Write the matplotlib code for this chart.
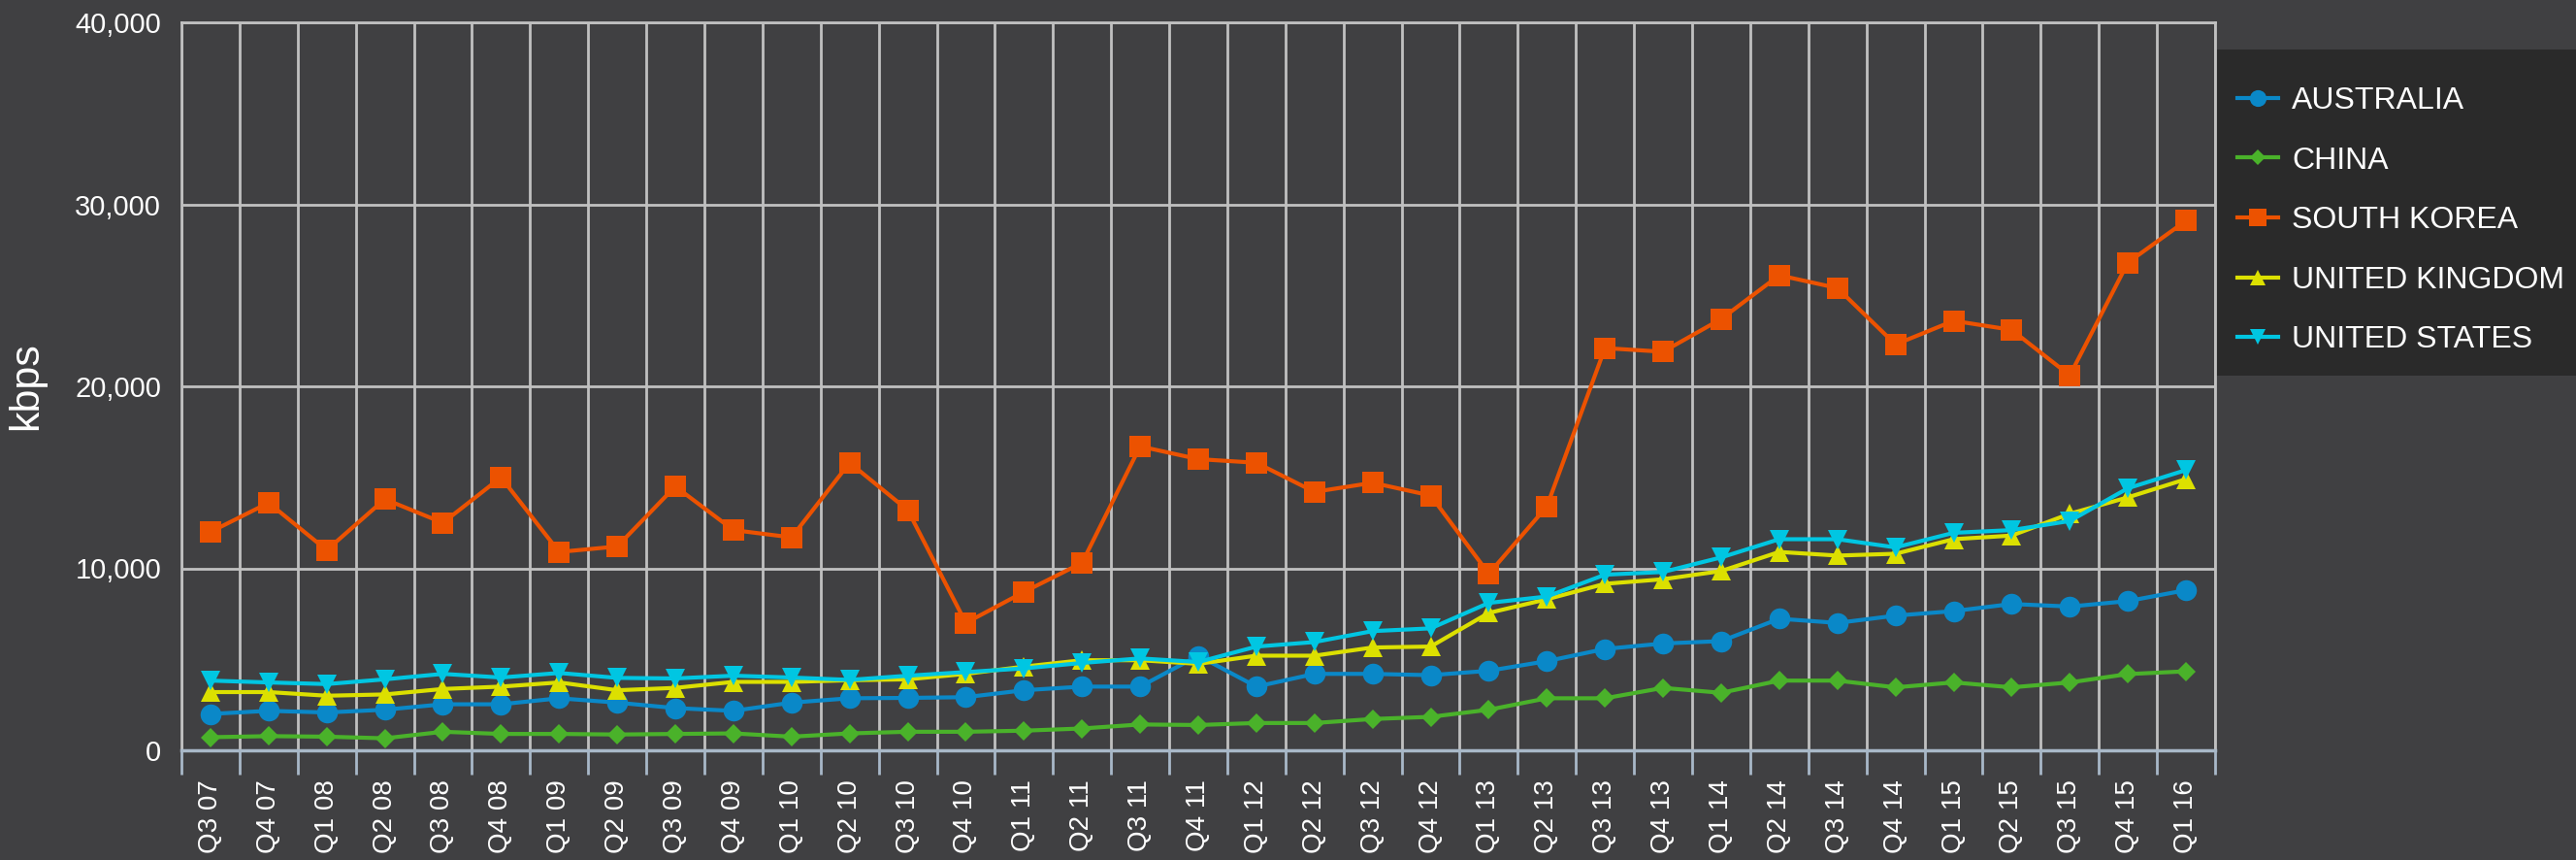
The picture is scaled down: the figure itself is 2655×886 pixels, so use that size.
import matplotlib
matplotlib.use("Agg")
import matplotlib.pyplot as plt
from matplotlib.patches import Rectangle
import numpy as np

plt.rcParams['font.family'] = ['Liberation Sans', 'DejaVu Sans']

quarters = ["Q3 07", "Q4 07",
            "Q1 08", "Q2 08", "Q3 08", "Q4 08",
            "Q1 09", "Q2 09", "Q3 09", "Q4 09",
            "Q1 10", "Q2 10", "Q3 10", "Q4 10",
            "Q1 11", "Q2 11", "Q3 11", "Q4 11",
            "Q1 12", "Q2 12", "Q3 12", "Q4 12",
            "Q1 13", "Q2 13", "Q3 13", "Q4 13",
            "Q1 14", "Q2 14", "Q3 14", "Q4 14",
            "Q1 15", "Q2 15", "Q3 15", "Q4 15",
            "Q1 16"]

australia = [2000, 2170, 2080, 2230, 2530, 2530, 2860, 2620, 2320, 2170,
             2620, 2860, 2880, 2920, 3300, 3500, 3500, 5200, 3500, 4200,
             4200, 4130, 4370, 4900, 5570, 5870, 6000, 7230, 7000, 7400,
             7650, 8040, 7900, 8200, 8800]
china = [720, 780, 750, 660, 1020, 900, 900, 870, 900, 930,
         750, 930, 1020, 1020, 1080, 1200, 1420, 1390, 1500, 1500,
         1720, 1840, 2230, 2860, 2860, 3430, 3160, 3830, 3830, 3460,
         3730, 3460, 3730, 4190, 4340]
south_korea = [12000, 13600, 11000, 13800, 12500, 15000, 10900, 11200, 14500, 12100,
               11700, 15800, 13200, 7000, 8700, 10300, 16700, 16000, 15800, 14200,
               14700, 14000, 9700, 13400, 22100, 21900, 23700, 26100, 25400, 22300,
               23600, 23100, 20600, 26800, 29100]
united_kingdom = [3200, 3200, 3000, 3070, 3370, 3500, 3730, 3300, 3430, 3760,
                  3760, 3850, 3900, 4200, 4600, 4950, 4950, 4750, 5200, 5200,
                  5650, 5700, 7550, 8300, 9150, 9400, 9850, 10900, 10700, 10800,
                  11600, 11800, 13000, 13900, 14900]
united_states = [3830, 3730, 3640, 3900, 4200, 4000, 4250, 3980, 3950, 4100,
                 4000, 3870, 4100, 4300, 4500, 4800, 5050, 4850, 5700, 5950,
                 6550, 6700, 8100, 8450, 9650, 9800, 10600, 11600, 11600, 11150,
                 11950, 12100, 12600, 14400, 15400]

series = [
    ("AUSTRALIA", australia, "#0a88c8", "o", 15.5),
    ("CHINA", china, "#4ab22a", "D", 10.5),
    ("SOUTH KOREA", south_korea, "#ec5200", "s", 15.5),
    ("UNITED KINGDOM", united_kingdom, "#dce000", "^", 15),
    ("UNITED STATES", united_states, "#00c6e2", "v", 15),
]

BG = "#404042"
GRID = "#c0c0c0"
AXISBLUE = "#a8b8c8"

W, H = 2655, 886
fig = plt.figure(figsize=(W/100, H/100), dpi=100, facecolor=BG)
ax = fig.add_axes([187/W, 1-773/H, (2283-187)/W, (773-23)/H])
ax.set_facecolor(BG)

x = np.arange(len(quarters))
handles = []
for name, vals, col, mk, ms in series:
    h, = ax.plot(x, vals, color=col, marker=mk, markersize=ms, linewidth=3.0,
                 markeredgewidth=0, label=name, clip_on=False, zorder=3)
    handles.append(h)

ax.set_xlim(-0.5, len(quarters)-0.5)
ax.set_ylim(0, 40000)

# boundaries as major ticks (gridlines + tick marks), centers as minor with labels
ax.set_xticks(np.arange(-0.5, len(quarters), 1.0))
ax.set_xticklabels([])
ax.set_xticks(x, minor=True)
ax.set_xticklabels(quarters, minor=True, rotation=90, color="white", fontsize=20,
                   va="top", ha="center")
ax.tick_params(axis="x", which="major", length=18, width=2.0, color=AXISBLUE, direction="out")
ax.tick_params(axis="x", which="minor", length=0, pad=22)

yt = np.arange(0, 40001, 10000)
ax.set_yticks(yt)
ax.set_yticklabels([f"{v:,}" for v in yt], color="white", fontsize=21)
ax.tick_params(axis="y", length=0, pad=15)

ax.grid(True, which="major", color=GRID, linewidth=2.0, zorder=1)
ax.set_axisbelow(True)

for side in ["top", "right", "left"]:
    ax.spines[side].set_color(GRID)
    ax.spines[side].set_linewidth(2.0)
ax.spines["bottom"].set_color(AXISBLUE)
ax.spines["bottom"].set_linewidth(2.5)

ax.set_ylabel("kbps", color="white", fontsize=31, labelpad=22)

# legend panel
fig.patches.append(Rectangle((2285/W, 1-387/H), 1-2285/W, (387-51)/H,
                             transform=fig.transFigure, facecolor="#2a2a2a",
                             edgecolor="none", zorder=0))
leg = fig.legend(handles=handles, loc="upper left",
                 bbox_to_anchor=(2306/W, 1-89/H), frameon=False,
                 fontsize=23, labelcolor="white", handlelength=1.3,
                 handletextpad=0.45, labelspacing=0.99, markerscale=0.8,
                 borderpad=0, borderaxespad=0)

fig.savefig("out.png", dpi=100, facecolor=BG)
